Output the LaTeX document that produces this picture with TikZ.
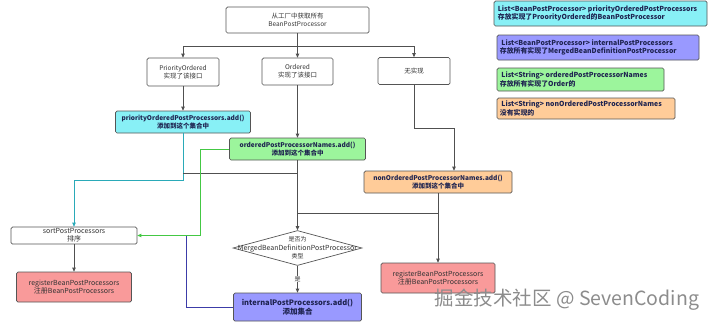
\documentclass[tikz,border=0pt]{standalone}
\usepackage{fontspec}
\setmainfont{Noto Sans CJK SC}
\usetikzlibrary{arrows.meta,shapes.geometric}
\definecolor{cyanfill}{HTML}{88F0F6}
\definecolor{purplefill}{HTML}{9999FF}
\definecolor{greenfill}{HTML}{9CF59C}
\definecolor{orangefill}{HTML}{FFCC99}
\definecolor{redfill}{HTML}{F99A9A}
\definecolor{edgegray}{HTML}{555555}
\definecolor{linegray}{HTML}{505050}
\definecolor{cyanline}{HTML}{2AAAB8}
\definecolor{greenline}{HTML}{44C844}
\definecolor{blueline}{HTML}{3C3CA8}
\definecolor{txt}{HTML}{333333}
\definecolor{txtdark}{HTML}{1E2350}
\tikzset{
  box/.style={draw=edgegray, line width=0.7pt, rounded corners=1.5pt, fill=white,
    align=center, inner sep=0pt, text=txt, font=\fontsize{6.5}{7.8}\selectfont},
  cbox/.style={box, text=txtdark, font=\fontsize{6.5}{7.8}\selectfont\bfseries},
  legend/.style={draw=edgegray, line width=0.7pt, rounded corners=1.5pt, inner sep=0pt},
  legendtext/.style={anchor=west, align=left, inner sep=0pt, text=txtdark,
    font=\fontsize{6.9}{8.2}\selectfont\bfseries},
  conn/.style={draw=linegray, line width=0.8pt},
  arr/.style={conn, -{Triangle[length=4pt,width=3.5pt]}},
}
\begin{document}
\begin{tikzpicture}[x=1pt,y=-1pt]
\useasboundingbox (0,0) rectangle (720,325);
% nodes
\node[box, minimum width=143pt, minimum height=26pt] (top) at (297.5,20) {从工厂中获取所有\\BeanPostProcessor};
\node[box, minimum width=72pt, minimum height=28pt] (po) at (183,72) {PriorityOrdered\\实现了该接口};
\node[box, minimum width=71pt, minimum height=27pt] (ord) at (297.5,71.5) {Ordered\\实现了该接口};
\node[box, minimum width=72pt, minimum height=27pt] (none) at (414,71) {无实现};
\node[cbox, fill=cyanfill, minimum width=135pt, minimum height=22pt] (cyan) at (183,122) {priorityOrderedPostProcessors.add()\\添加到这个集合中};
\node[cbox, fill=greenfill, minimum width=136pt, minimum height=22pt] (green) at (297.5,149) {orderedPostProcessorNames.add()\\添加到这个集合中};
\node[cbox, fill=orangefill, minimum width=148pt, minimum height=22pt] (orange) at (438,182) {nonOrderedPostProcessorNames.add()\\添加到这个集合中};
\node[box, font=\fontsize{7}{8}\selectfont, minimum width=126pt, minimum height=17pt] (sort) at (74,235.5) {sortPostProcessors\\排序};
\node[cbox, fill=redfill, text=txt, font=\fontsize{7}{8.4}\selectfont, minimum width=115pt, minimum height=30pt] (redL) at (74,287) {registerBeanPostProcessors\\注册BeanPostProcessors};
\node[cbox, fill=redfill, text=txt, font=\fontsize{7}{8.4}\selectfont, minimum width=114pt, minimum height=30pt] (redR) at (438,278) {registerBeanPostProcessors\\注册BeanPostProcessors};
\node[draw=edgegray, line width=0.7pt, diamond, aspect=3.6, fill=white, minimum width=129pt, minimum height=35pt, inner sep=0pt] (dia) at (297.5,248) {};
\node[align=center, text=txt, font=\fontsize{6}{8.4}\selectfont, inner sep=0pt] (diat) at (dia.center) {是否为\\{\fontsize{7}{8.4}\selectfont MergedBeanDefinitionPostProcessor}\\类型};
\node[cbox, fill=purplefill, font=\fontsize{7.5}{9}\selectfont\bfseries, minimum width=128pt, minimum height=28pt] (internal) at (297.5,307) {internalPostProcessors.add()\\添加集合};
% legend
\node[legend, fill=cyanfill, minimum width=213pt, minimum height=25pt] (l1) at (600.5,13.5) {};
\node[legendtext] (l1t) at ([xshift=4pt]l1.west) {List<BeanPostProcessor> priorityOrderedPostProcessors\\存放实现了ProorityOrdered的BeanPostProcessor};
\node[legend, fill=purplefill, minimum width=202pt, minimum height=25pt] (l2) at (598,47.5) {};
\node[legendtext] (l2t) at ([xshift=3pt]l2.west) {\ List<BeanPostProcessor> internalPostProcessors\\存放所有实现了MergedBeanDefinitionPostProcessor};
\node[legend, fill=greenfill, minimum width=167pt, minimum height=23pt] (l3) at (580.5,79.5) {};
\node[legendtext] (l3t) at ([xshift=3pt]l3.west) {\ List<String> orderedPostProcessorNames\\存放所有实现了Order的};
\node[legend, fill=orangefill, minimum width=178pt, minimum height=21pt] (l4) at (586,108.5) {};
\node[legendtext] (l4t) at ([xshift=3pt]l4.west) {\ List<String> nonOrderedPostProcessorNames\\没有实现的};
% watermark
\node[text=black!45, font=\fontsize{19.5}{21}\selectfont, inner sep=0pt] (wm) at (567,300) {掘金技术社区 @ SevenCoding};
% coordinates
\coordinate (j1) at (297.5,46);
\coordinate (n2) at (454,128);
\coordinate (c1) at (183,180);
\coordinate (d1) at (183,173);
\coordinate (d2) at (297.5,173);
\coordinate (g1) at (200,149);
\coordinate (o1) at (438,213);
\coordinate (o2) at (297.5,213);
\coordinate (b1) at (186,235.5);
% connectors
\draw[arr] (top.south) -- (ord.north);
\draw[arr] (j1) -| (po.north);
\draw[arr] (j1) -| (none.north);
\draw[arr] (po.south) -- (po.south |- cyan.north);
\draw[arr] (ord.south) -- (ord.south |- green.north);
\draw[arr] (none.south) |- (n2) -- (n2 |- orange.north);
\draw[arr, draw=cyanline] (cyan.south) -- (c1) -| (sort.north);
\draw[conn] (d1) -- (d2);
\draw[arr] (green.south) -- (dia.north);
\draw[arr, draw=greenline] (green.west) -- (g1) |- (sort.east);
\draw[arr] (orange.south) -- (redR.north);
\draw[conn] (o1) -- (o2);
\draw[arr] (dia.south) -- node[fill=white, inner sep=0.5pt, text=txt, font=\fontsize{6}{7}\selectfont] (yes) {是} (internal.north);
\draw[conn, draw=blueline] (internal.west) -| (b1);
\draw[arr] (sort.south) -- (redL.north);
\end{tikzpicture}
\end{document}
